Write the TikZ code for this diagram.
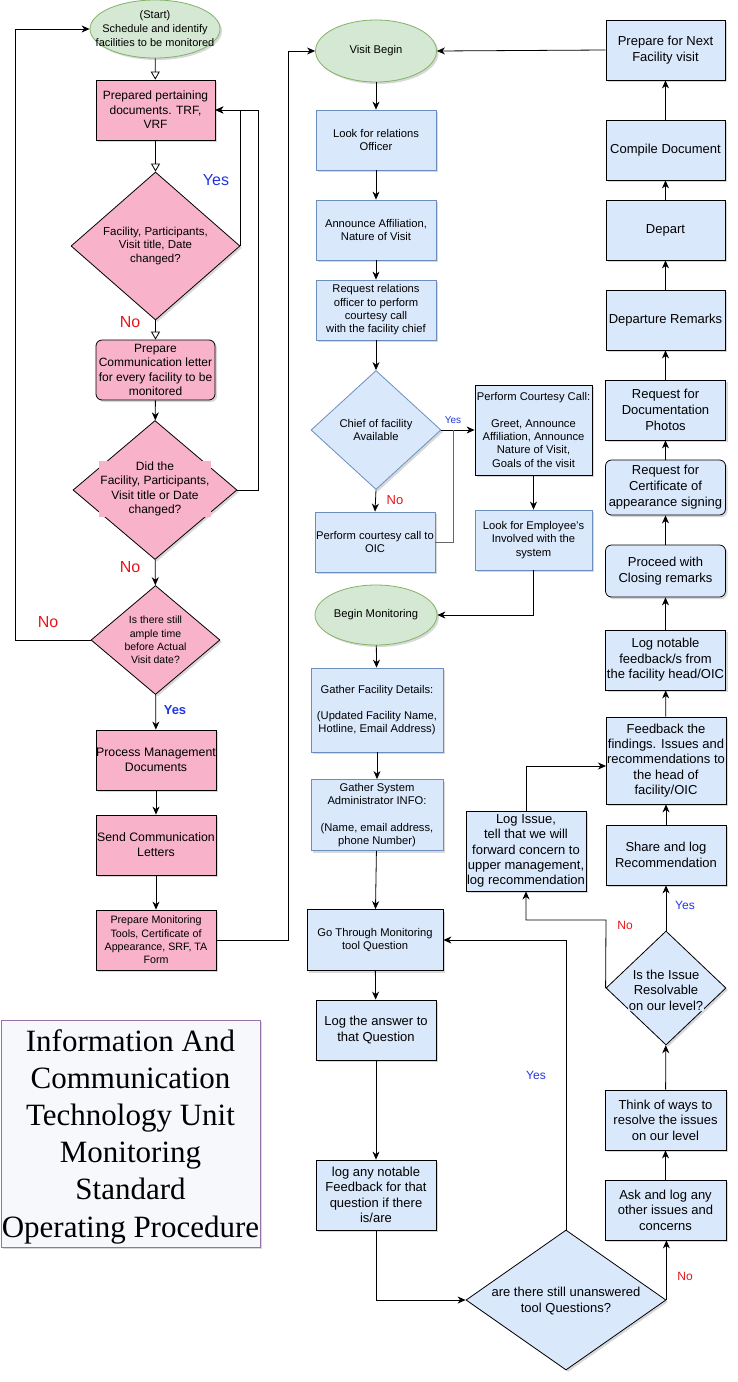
\documentclass[tikz,border=0pt]{standalone}
\usepackage{fontspec}
\setmainfont{Liberation Sans}
\newfontfamily\ttlfont{Liberation Serif}
\usetikzlibrary{shapes.geometric,arrows.meta,shadows}
\definecolor{pinkf}{RGB}{248,179,203}
\definecolor{bluef}{HTML}{DAE8FC}
\definecolor{blues}{HTML}{6C8EBF}
\definecolor{greenf}{HTML}{D5E8D4}
\definecolor{greens}{HTML}{82B366}
\definecolor{ttlf}{HTML}{F7F8FB}
\definecolor{ttls}{HTML}{9673A6}
\definecolor{yescol}{HTML}{2236E0}
\definecolor{nocol}{HTML}{E8141B}
\tikzset{
  shd/.style={drop shadow={shadow xshift=2pt,shadow yshift=-2pt,opacity=0.22,fill=black!70}},
  fs/.style={font=\fontsize{11.2}{13.3}\selectfont},
  fm/.style={font=\fontsize{12}{14.5}\selectfont},
  fl/.style={font=\fontsize{13}{15.4}\selectfont},
  fx/.style={font=\fontsize{13}{16}\selectfont},
  pbox/.style={rectangle, draw=black, fill=pinkf, line width=0.8pt, align=center, inner sep=0pt, shd},
  bbox/.style={rectangle, draw=blues, fill=bluef, line width=0.8pt, align=center, inner sep=0pt, shd},
  kbox/.style={rectangle, draw=black, fill=bluef, line width=0.8pt, align=center, inner sep=0pt, shd},
  gell/.style={ellipse, draw=greens, fill=greenf, line width=0.8pt, inner sep=0pt, shd},
  pdia/.style={diamond, draw=black, fill=pinkf, line width=0.8pt, inner sep=0pt, shd},
  bdia/.style={diamond, draw=blues, fill=bluef, line width=0.8pt, inner sep=0pt, shd},
  kdia/.style={diamond, draw=black, fill=bluef, line width=0.8pt, inner sep=0pt, shd},
  txt/.style={align=center, inner sep=1pt},
  arr/.style={-{Stealth[length=8pt,width=7pt,inset=2.5pt]}, line width=0.8pt},
  oarr/.style={-{Triangle[open,length=8pt,width=9pt]}, line width=0.8pt},
  ln/.style={line width=0.8pt},
  yeslbl/.style={text=yescol, inner sep=0pt},
  nolbl/.style={text=nocol, inner sep=0pt},
}
\begin{document}
\begin{tikzpicture}[x=1pt,y=-1pt]
\useasboundingbox (0,0) rectangle (737,1382);

% ---------- left column ----------
\node[gell, minimum width=130pt, minimum height=58pt] (start) at (155,29) {};
\node[txt, font=\fontsize{11}{14}\selectfont] (startT) at (start) {(Start)\\Schedule and identify\\facilities to be monitored};
\node[pbox, fm, minimum width=119pt, minimum height=60pt] (p1) at (155.5,110) {Prepared pertaining\\documents. TRF,\\VRF};
\node[pdia, minimum width=169pt, minimum height=148pt] (d1) at (155.5,246) {};
\node[txt, font=\fontsize{11.5}{13.5}\selectfont] (d1T) at (d1) {Facility, Participants,\\Visit title, Date\\changed?};
\node[pbox, fm, rounded corners=6pt, minimum width=119pt, minimum height=60pt] (p2) at (155.5,370) {Prepare\\Communication letter\\for every facility to be\\monitored};
\node[pdia, minimum width=164pt, minimum height=139pt] (d2) at (155,490) {};
\node[txt, fm, fill=pinkf] (d2T) at (155,489) {Did the\\Facility, Participants,\\Visit title or Date\\changed?};
\node[pdia, minimum width=129pt, minimum height=109pt] (d3) at (155.5,640) {};
\node[txt, font=\fontsize{10.5}{13.3}\selectfont] (d3T) at (d3) {Is there still\\ample time\\before Actual\\Visit date?};
\node[pbox, font=\fontsize{12.3}{15}\selectfont, minimum width=120pt, minimum height=60pt] (p3) at (156,760) {Process Management\\Documents};
\node[pbox, font=\fontsize{12.3}{15}\selectfont, minimum width=120pt, minimum height=60pt] (p4) at (156,845) {Send Communication\\Letters};
\node[pbox, font=\fontsize{10.7}{13.3}\selectfont, minimum width=120pt, minimum height=60pt] (p5) at (156,940) {Prepare Monitoring\\Tools, Certificate of\\Appearance, SRF, TA\\Form};

\node[yeslbl, font=\fontsize{16}{18}\selectfont] (y1) at (216,180) {Yes};
\node[nolbl, font=\fontsize{16}{18}\selectfont] (n1) at (130,322) {No};
\node[nolbl, font=\fontsize{16}{18}\selectfont] (n2) at (130,567) {No};
\node[nolbl, font=\fontsize{16}{18}\selectfont] (n3) at (48,622) {No};
\node[yeslbl, font=\fontsize{13}{15}\selectfont\bfseries] (y2) at (175,710) {Yes};

% ---------- middle column ----------
\node[gell, minimum width=121pt, minimum height=62pt] (vb) at (376,51) {};
\node[txt, fs] (vbT) at (vb) {Visit Begin};
\node[bbox, fs, minimum width=120pt, minimum height=60pt] (m1) at (376,140) {Look for relations\\Officer};
\node[bbox, fs, minimum width=120pt, minimum height=60pt] (m2) at (376,230) {Announce Affiliation,\\Nature of Visit};
\node[bbox, fs, minimum width=120pt, minimum height=60pt] (m3) at (376,310) {Request relations\\officer to perform\\courtesy call\\with the facility chief};
\node[bdia, minimum width=130pt, minimum height=119pt] (md) at (376,430) {};
\node[txt, fs] (mdT) at (md) {Chief of facility\\Available};
\node[kbox, fs, minimum width=117pt, minimum height=90pt] (mc) at (533.5,430) {Perform Courtesy Call:\\[13pt]Greet, Announce\\Affiliation, Announce\\Nature of Visit,\\Goals of the visit};
\node[bbox, fs, minimum width=120pt, minimum height=60pt] (mo) at (375,542) {Perform courtesy call to\\OIC};
\node[bbox, fs, minimum width=117pt, minimum height=60pt] (me) at (533.5,540) {Look for Employee's\\Involved with the\\system};
\node[gell, minimum width=122pt, minimum height=60pt] (bm) at (376,615) {};
\node[txt, fs] (bmT) at (bm) {Begin Monitoring};
\node[bbox, fs, minimum width=132pt, minimum height=84pt] (g1) at (377,710) {Gather Facility Details:\\[13pt](Updated Facility Name,\\Hotline, Email Address)};
\node[bbox, fs, minimum width=132pt, minimum height=71pt] (g2) at (377,815) {Gather System\\Administrator INFO:\\[13pt](Name, email address,\\phone Number)};
\node[kbox, fs, minimum width=136pt, minimum height=61pt] (g3) at (375,940) {Go Through Monitoring\\tool Question};
\node[kbox, fl, minimum width=120pt, minimum height=60pt] (la) at (376,1030) {Log the answer to\\that Question};
\node[kbox, fl, minimum width=120pt, minimum height=70pt] (lf) at (376,1195) {log any notable\\Feedback for that\\question if there\\is/are};
\node[kdia, minimum width=200pt, minimum height=140pt] (dq) at (566,1300) {};
\node[txt, fl] (dqT) at (566,1301) {are there still unanswered\\tool Questions?};

\node[yeslbl, font=\fontsize{10}{12}\selectfont] (y3) at (453,420) {Yes};
\node[nolbl, font=\fontsize{13}{15}\selectfont] (n4) at (395,500) {No};
\node[yeslbl, font=\fontsize{12}{14}\selectfont] (y4) at (536,1075) {Yes};

% ---------- right column ----------
\node[kbox, fl, minimum width=121pt, minimum height=60pt] (r1) at (665.5,1210) {Ask and log any\\other issues and\\concerns};
\node[kbox, fl, minimum width=121pt, minimum height=60pt] (r2) at (665.5,1120) {Think of ways to\\resolve the issues\\on our level};
\node[kdia, minimum width=120pt, minimum height=114pt] (rd) at (666,988) {};
\node[txt, fl, fill=bluef] (rdT) at (666,990) {Is the Issue\\Resolvable\\on our level?};
\node[kbox, fl, minimum width=120pt, minimum height=60pt] (r3) at (666,855) {Share and log\\Recommendation};
\node[kbox, fl, minimum width=120pt, minimum height=87pt] (r4) at (666,760.5) {Feedback the\\findings. Issues and\\recommendations to\\the head of\\facility/OIC};
\node[kbox, fl, minimum width=120pt, minimum height=80pt] (li) at (526,851) {Log Issue,\\tell that we will\\forward concern to\\upper management,\\log recommendation};
\node[kbox, fl, minimum width=120pt, minimum height=60pt] (r5) at (665.5,660) {Log notable\\feedback/s from\\the facility head/OIC};
\node[kbox, fx, rounded corners=6pt, minimum width=120pt, minimum height=52pt] (r6) at (665.5,571) {Proceed with\\Closing remarks};
\node[kbox, fx, rounded corners=6pt, minimum width=120pt, minimum height=55pt] (r7) at (665.5,487.5) {Request for\\Certificate of\\appearance signing};
\node[kbox, fx, minimum width=120pt, minimum height=60pt] (r8) at (665.5,410) {Request for\\Documentation\\Photos};
\node[kbox, fx, minimum width=119pt, minimum height=60pt] (r9) at (665.5,320) {Departure Remarks};
\node[kbox, fx, minimum width=119pt, minimum height=60pt] (r10) at (665.5,230) {Depart};
\node[kbox, fx, minimum width=119pt, minimum height=60pt] (r11) at (665.5,150) {Compile Document};
\node[kbox, fx, minimum width=119pt, minimum height=60pt] (r12) at (665.5,50) {Prepare for Next\\Facility visit};

\node[yeslbl, font=\fontsize{12}{14}\selectfont] (y5) at (685,905) {Yes};
\node[nolbl, font=\fontsize{12}{14}\selectfont] (n5) at (625,925) {No};
\node[nolbl, font=\fontsize{12}{14}\selectfont] (n6) at (685,1276) {No};

% ---------- title ----------
\node[rectangle, draw=ttls, fill=ttlf, line width=0.8pt, minimum width=259pt, minimum height=227pt, inner sep=0pt, shd] (title) at (130.5,1133.5) {};
\node[align=center, inner sep=0pt, font=\ttlfont\fontsize{31}{37.2}\selectfont] (titleT) at (130.5,1136.5)
      {Information And\\Communication\\Technology Unit\\Monitoring\\Standard\\Operating Procedure};

% ---------- helper coordinates ----------
\coordinate (k1) at (258,110);
\coordinate (k2) at (15,640);
\coordinate (k3) at (288,51);
\coordinate (k4) at (453,430);
\coordinate (k5) at (606,920);
\coordinate (k6) at (606,766);

% ---------- connectors ----------
\draw[oarr] (start) -- (p1);
\draw[oarr] (p1) -- (d1);
\draw[oarr] (d1) -- (p2);
\draw[arr] (d1.east) |- (p1.east);
\draw[arr] (d2.east) -| (k1) -- (p1.east);
\draw[arr] (p2) -- (d2);
\draw[arr] (d2) -- (d3);
\draw[arr] (d3.west) -- (k2) |- (start.west);
\draw[arr] (d3) -- (p3);
\draw[arr] (p3) -- (p4);
\draw[arr] (p4) -- (p5);
\draw[arr] (p5.east) -| (k3) -- (vb.west);

\draw[arr] (r12.west) -- (vb.east);
\draw[arr] (vb) -- (m1);
\draw[arr] (m1) -- (m2);
\draw[arr] (m2) -- (m3);
\draw[arr] (m3) -- (md);
\draw[arr] (md.east) -- (mc.west);
\draw[arr] (md.south) -- (mo.north);
\draw[ln, black!60] (mo.east) -| (k4);
\draw[arr] (mc) -- (me);
\draw[arr] (me.south) |- (bm.east);
\draw[arr] (bm) -- (g1);
\draw[arr] (g1) -- (g2);
\draw[arr] (g2) -- (g3);
\draw[arr] (g3) -- (la);
\draw[arr] (la) -- (lf);
\draw[arr] (lf.south) |- (dq.west);
\draw[arr] (dq.north) |- (g3.east);

\draw[arr] (dq.east) -- (dq.east |- r1.south);
\draw[arr] (r1) -- (r2);
\draw[arr] (r2) -- (rd);
\draw[arr] (rd) -- (r3);
\draw[arr] (r3) -- (r4);
\draw[arr] (rd.west) -- (k5) -| (li.south);
\draw[arr] (li.north) |- (k6);
\draw[arr] (r4) -- (r5);
\draw[arr] (r5) -- (r6);
\draw[arr] (r6) -- (r7);
\draw[arr] (r7) -- (r8);
\draw[arr] (r8) -- (r9);
\draw[arr] (r9) -- (r10);
\draw[arr] (r10) -- (r11);
\draw[arr] (r11) -- (r12);
\end{tikzpicture}
\end{document}
